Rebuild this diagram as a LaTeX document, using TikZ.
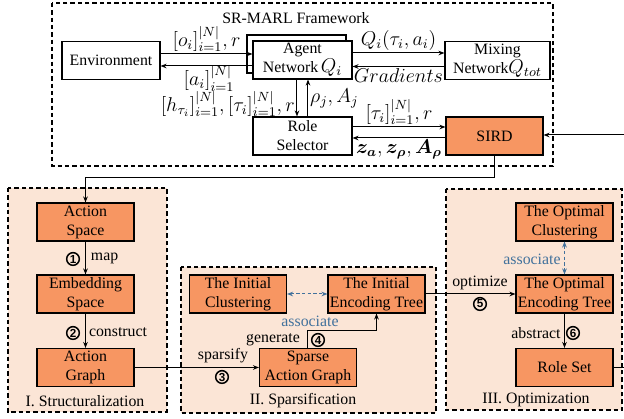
\documentclass[tikz,border=0pt]{standalone}
\usepackage{amsmath}
\usepackage{bm}
\usepackage{fontspec}
\setmainfont{Liberation Serif}
\newfontfamily\numfont{Liberation Sans}
\usetikzlibrary{arrows.meta,calc}

\definecolor{boxorange}{RGB}{247,150,98}
\definecolor{panelfill}{RGB}{251,229,214}
\definecolor{assocblue}{RGB}{65,113,156}

% larger math symbol inside box text
\newcommand{\bigmath}[1]{{\fontsize{12}{11.4}\selectfont$#1$}}

\begin{document}
\begin{tikzpicture}[x=0.6pt,y=-0.6pt,
  font=\fontsize{9.5}{11.4}\selectfont,
  plainbox/.style={draw, line width=0.7pt, fill=white, minimum width=58.8pt,
    minimum height=22.8pt, align=center, inner sep=1pt},
  orangebox/.style={plainbox, fill=boxorange, minimum width=58.2pt},
  frame/.style={draw, line width=0.7pt, dash pattern=on 2.6pt off 1.8pt},
  panel/.style={frame, fill=panelfill},
  tip/.tip={Stealth[length=3.6pt,width=2.8pt]},
  arr/.style={line width=0.6pt, -tip},
  link/.style={line width=0.6pt},
  assoc/.style={line width=0.6pt, assocblue, dash pattern=on 2pt off 1.4pt, tip-tip},
  lbl/.style={inner sep=1pt},
  bluelbl/.style={inner sep=1pt, text=assocblue},
  mlbl/.style={inner sep=1pt, font=\fontsize{11.5}{12}\selectfont},
  numcirc/.style={circle, draw, line width=0.9pt, inner sep=0pt, minimum size=7.6pt,
    font=\numfont\bfseries\fontsize{7}{7}\selectfont}
]
\useasboundingbox (0,0) rectangle (624,419);

% framework border and the three stage panels
\path[frame] (52,3) rectangle (553,166);
\path[panel] (8,188) rectangle (167,412);
\path[panel] (181,267) rectangle (436,413);
\path[panel] (446,189) rectangle (622,410);

\node[lbl] (title) at (296,18) {SR-MARL Framework};

% SR-MARL framework blocks
\node[plainbox] (env) at (111,60.5) {Environment};
\node[plainbox, minimum width=59.4pt] (agentbk) at (296.5,54) {};
\node[plainbox, minimum width=59.4pt] (agent) at (302.5,60) {Agent\\Network\,\bigmath{Q_i}};
\node[plainbox, minimum width=63pt] (mix) at (497.5,60.5) {Mixing\\Network\bigmath{Q_{tot}}};
\node[plainbox, minimum width=59.4pt] (role) at (302.5,136) {Role\\Selector};
\node[orangebox] (sird) at (494.5,136) {SIRD};

% stage blocks
\node[orangebox] (aspace) at (85.5,222) {Action\\Space};
\node[orangebox] (espace) at (85.5,294) {Embedding\\Space};
\node[orangebox] (agraph) at (85.5,367.5) {Action\\Graph};
\node[orangebox] (iclust) at (238,294) {The Initial\\Clustering};
\node[orangebox] (ienc) at (376.5,294) {The Initial\\Encoding Tree};
\node[orangebox] (sparse) at (308,367.5) {Sparse\\Action Graph};
\node[orangebox] (oclust) at (564.5,222) {The Optimal\\Clustering};
\node[orangebox] (oenc) at (564.5,294) {The Optimal\\Encoding Tree};
\node[orangebox] (rset) at (564.5,367.5) {Role Set};

\node[lbl] (t1) at (85,401) {I. Structuralization};
\node[lbl] (t2) at (303,401) {II. Sparsification};
\node[lbl] (t3) at (536,400) {III. Optimization};

% framework connectors
\draw[arr] ([yshift=3.9pt]env.east) -- ([yshift=3.9pt]env.east -| agent.west)
  node[midway, above, mlbl] {$[o_i]_{i=1}^{|N|}, r$};
\draw[arr] ([yshift=-3.6pt]agent.west) -- ([yshift=-3.6pt]agent.west -| env.east)
  node[midway, below, mlbl, xshift=1.5pt, yshift=1.5pt] {$[a_i]_{i=1}^{|N|}$};
\draw[arr] ([yshift=4.2pt]agent.east) -- ([yshift=4.2pt]agent.east -| mix.west)
  node[midway, above, mlbl] {$Q_i(\tau_i, a_i)$};
\draw[arr] ([yshift=-3.6pt]mix.west) -- ([yshift=-3.6pt]mix.west -| agent.east)
  node[midway, below, mlbl] {$Gradients$};
\draw[arr] ([xshift=-3.3pt]agent.south) -- ([xshift=-3.3pt]agent.south |- role.north)
  node[midway, left, mlbl, yshift=-3.6pt] {$[h_{\tau_i}]_{i=1}^{|N|}, [\tau_i]_{i=1}^{|N|}, r$};
\draw[arr] ([xshift=3.3pt]role.north) -- ([xshift=3.3pt]role.north |- agent.south)
  node[midway, right, mlbl] {$\rho_j, A_j$};
\draw[arr] ([yshift=5.4pt]role.east) -- ([yshift=5.4pt]role.east -| sird.west)
  node[midway, above, mlbl] {$[\tau_i]_{i=1}^{|N|}, r$};
\draw[arr] ([yshift=-1.2pt]sird.west) -- ([yshift=-1.2pt]sird.west -| role.east)
  node[midway, below, mlbl] {$\bm{z_a}, \bm{z_\rho}, \bm{A_\rho}$};

\coordinate (rin) at (624,135);
\draw[arr] (rin) -- (rin -| sird.east);
\coordinate (drop) at (0,178);
\draw[arr] (sird.south) -- (sird.south |- drop) -| (aspace.north);

% stage connectors
\draw[arr] (aspace.south) -- (espace.north);
\node[numcirc] (n1) at (73,259) {1};
\node[lbl, anchor=west] (lmap) at (89,258) {map};

\draw[arr] (espace.south) -- (agraph.north);
\node[numcirc] (n2) at (73,333) {2};
\node[lbl, anchor=west] (lcons) at (87,332) {construct};

\draw[arr] (agraph.east) -- (sparse.west);
\node[lbl] (lspar) at (223,356) {sparsify};
\node[numcirc] (n3) at (222,377) {3};

\draw[arr] (sparse.north) |- ($(sparse.north)!.5!(ienc.south)$) -| (ienc.south);
\node[lbl] (lgen) at (273,340) {generate};
\node[numcirc] (n4) at (318,340) {4};

\draw[assoc] (iclust.east) -- (ienc.west);
\node[bluelbl] (lassoc1) at (310,321) {associate};

\draw[arr] (ienc.east) -- (oenc.west);
\node[lbl] (lopt) at (480,283) {optimize};
\node[numcirc] (n5) at (480,304) {5};

\draw[assoc] (oclust.south) -- (oenc.north);
\node[bluelbl] (lassoc2) at (532,259) {associate};

\draw[arr] (oenc.south) -- (rset.north);
\node[lbl] (labs) at (536,333) {abstract};
\node[numcirc] (n6) at (573,333) {6};

\coordinate (rout) at (624,367.5);
\draw[link] (rset.east) -- (rout);
\end{tikzpicture}
\end{document}
